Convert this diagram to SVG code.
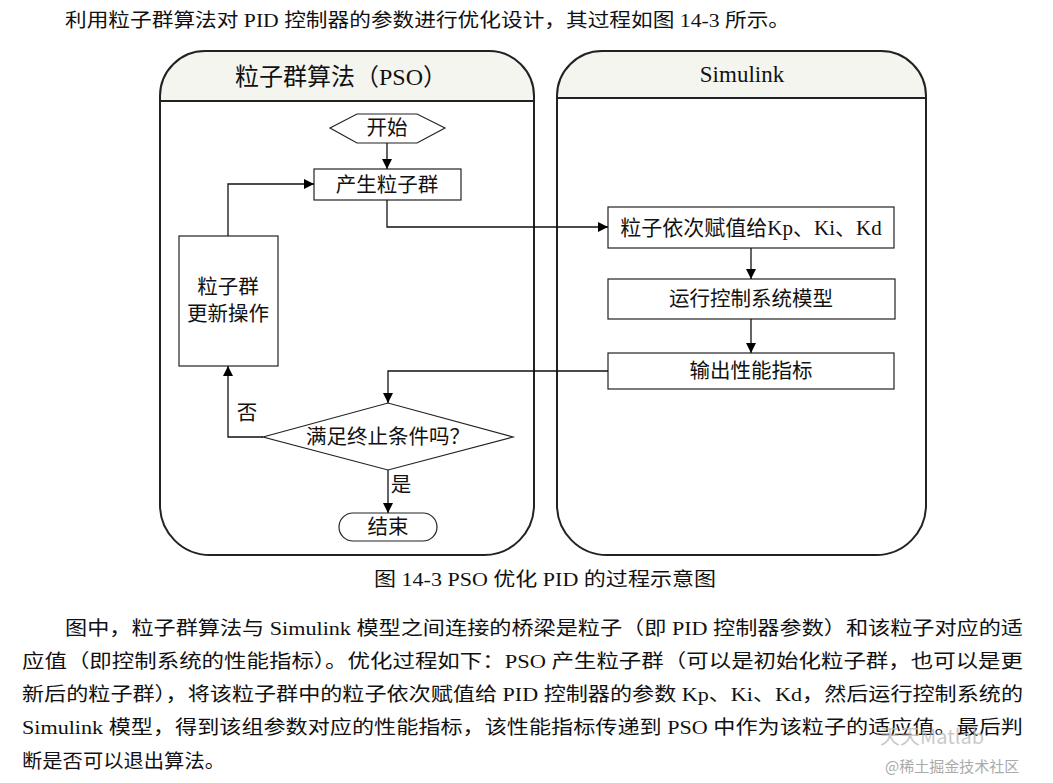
<svg xmlns="http://www.w3.org/2000/svg" width="1053" height="783" viewBox="0 0 1053 783">
<style>
.t{font-family:"Liberation Serif","Noto Sans CJK SC",serif;fill:#111;}
.c{text-anchor:middle;dominant-baseline:central;}
.n{font-size:20.5px;}
.box{fill:#fff;stroke:#222;stroke-width:1.2;}
.lane{fill:none;stroke:#222;stroke-width:2;}
.hdr{fill:#f5f5ef;}
.ln{fill:none;stroke:#111;stroke-width:1.3;}
</style>
<defs>
<marker id="ah" viewBox="0 0 10 10" refX="10" refY="5" markerWidth="10" markerHeight="10" markerUnits="userSpaceOnUse" orient="auto">
<path d="M0,0 L10,5 L0,10 Z" fill="#000"/>
</marker>
</defs>
<rect width="1053" height="783" fill="#fff"/>
<text class="t" x="65" y="27" font-size="19" textLength="725" lengthAdjust="spacingAndGlyphs">利用粒子群算法对 PID 控制器的参数进行优化设计，其过程如图 14-3 所示。</text>

<g id="lane-pso">
<path class="hdr" d="M160,101 L160,96 A45,45 0 0 1 205,51 L489,51 A45,45 0 0 1 534,96 L534,101 Z"/>
<path class="lane" d="M205,51 L489,51 A45,45 0 0 1 534,96 L534,505 A50,50 0 0 1 484,555 L210,555 A50,50 0 0 1 160,505 L160,96 A45,45 0 0 1 205,51 Z"/>
<line x1="160" y1="101" x2="534" y2="101" stroke="#222" stroke-width="2"/>
<text class="t c" x="341" y="77" font-size="24">粒子群算法（PSO）</text>
</g>
<g id="lane-simulink">
<path class="hdr" d="M557,98 L557,96 A45,45 0 0 1 602,51 L881,51 A45,45 0 0 1 926,96 L926,98 Z"/>
<path class="lane" d="M602,51 L881,51 A45,45 0 0 1 926,96 L926,505 A50,50 0 0 1 876,555 L607,555 A50,50 0 0 1 557,505 L557,96 A45,45 0 0 1 602,51 Z"/>
<line x1="557" y1="98" x2="926" y2="98" stroke="#222" stroke-width="2"/>
<text class="t c" x="742" y="74" font-size="23">Simulink</text>
</g>

<g id="start">
<polygon class="box" points="330,128 357,114 417,114 445,128 417,143 357,143"/>
<text class="t c n" x="387" y="128">开始</text>
</g>
<g id="gen">
<rect class="box" x="314" y="169" width="147" height="31"/>
<text class="t c n" x="387" y="184.5">产生粒子群</text>
</g>
<g id="update">
<rect class="box" x="179" y="236" width="99" height="130"/>
<text class="t c n" x="228" y="287">粒子群</text>
<text class="t c n" x="228" y="314">更新操作</text>
</g>
<g id="decide">
<polygon class="box" points="263,437 388,403 513,437 388,470"/>
<text class="t c n" x="388" y="437">满足终止条件吗？</text>
</g>
<g id="end">
<rect class="box" x="339" y="513" width="98" height="28" rx="14"/>
<text class="t c n" x="388" y="527">结束</text>
</g>
<g id="assign">
<rect class="box" x="608" y="207" width="286" height="41"/>
<text class="t c" x="751" y="228" font-size="21">粒子依次赋值给Kp、Ki、Kd</text>
</g>
<g id="run">
<rect class="box" x="608" y="279" width="287" height="40"/>
<text class="t c n" x="751" y="299">运行控制系统模型</text>
</g>
<g id="output">
<rect class="box" x="608" y="353" width="286" height="36"/>
<text class="t c n" x="751" y="371">输出性能指标</text>
</g>

<g id="connectors">
<path class="ln" d="M387,143 L387,169" marker-end="url(#ah)"/>
<path class="ln" d="M387,200 L387,227 L608,227" marker-end="url(#ah)"/>
<path class="ln" d="M751,248 L751,279" marker-end="url(#ah)"/>
<path class="ln" d="M751,319 L751,353" marker-end="url(#ah)"/>
<path class="ln" d="M608,371 L388,371 L388,403" marker-end="url(#ah)"/>
<path class="ln" d="M263,437 L228,437 L228,366" marker-end="url(#ah)"/>
<path class="ln" d="M228,236 L228,184 L314,184" marker-end="url(#ah)"/>
<path class="ln" d="M388,470 L388,513" marker-end="url(#ah)"/>
<text class="t c n" x="247" y="413">否</text>
<text class="t c n" x="401" y="485">是</text>
</g>

<text class="t" x="374" y="586" font-size="19" textLength="342" lengthAdjust="spacingAndGlyphs">图 14-3 PSO 优化 PID 的过程示意图</text>
<text class="t" x="65" y="635" font-size="19" textLength="958" lengthAdjust="spacingAndGlyphs">图中，粒子群算法与 Simulink 模型之间连接的桥梁是粒子（即 PID 控制器参数）和该粒子对应的适</text>
<text class="t" x="22" y="668" font-size="19" textLength="1001" lengthAdjust="spacingAndGlyphs">应值（即控制系统的性能指标）。优化过程如下：PSO 产生粒子群（可以是初始化粒子群，也可以是更</text>
<text class="t" x="22" y="701" font-size="19" textLength="1001" lengthAdjust="spacingAndGlyphs">新后的粒子群），将该粒子群中的粒子依次赋值给 PID 控制器的参数 Kp、Ki、Kd，然后运行控制系统的</text>
<text class="t" x="22" y="734" font-size="19" textLength="1001" lengthAdjust="spacingAndGlyphs">Simulink 模型，得到该组参数对应的性能指标，该性能指标传递到 PSO 中作为该粒子的适应值。最后判</text>
<text class="t" x="22" y="768" font-size="19" textLength="203" lengthAdjust="spacingAndGlyphs">断是否可以退出算法。</text>
<text x="880" y="744" font-family="Noto Sans CJK SC, sans-serif" font-size="20" fill="#bbb" fill-opacity="0.8">天天Matlab</text>
<text x="885" y="772" font-family="Noto Sans CJK SC, sans-serif" font-size="15" fill="#aaa">@稀土掘金技术社区</text>
</svg>
